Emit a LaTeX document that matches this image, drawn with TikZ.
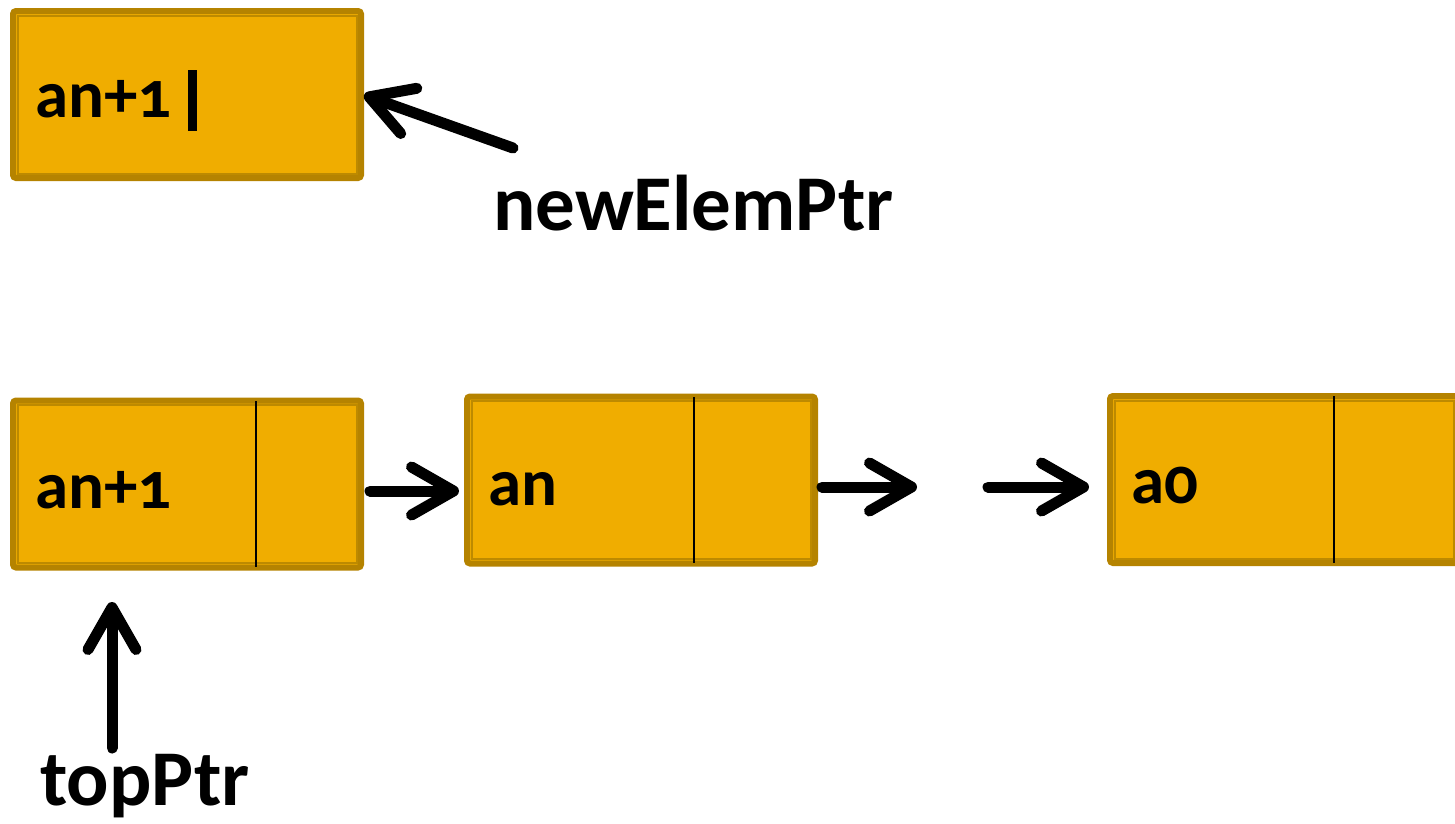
\documentclass[tikz,border=0pt]{standalone}
\usepackage{fontspec}
\setmainfont{Carlito}[Numbers=OldStyle]
\usetikzlibrary{arrows.meta}
\definecolor{fillc}{HTML}{F0AD00}
\definecolor{borderc}{HTML}{B58300}
\definecolor{innerc}{HTML}{BD8A00}
\tikzset{
  cell/.style={draw=borderc, line width=6pt, fill=fillc, rounded corners=3pt,
    minimum width=348pt, minimum height=167pt, inner sep=0pt},
  inner/.style={draw=innerc, line width=2pt},
  divider/.style={draw=black, line width=1.3pt},
  boxtxt/.style={anchor=base west, inner sep=0pt, font=\fontsize{67}{70}\selectfont\bfseries},
  lbl/.style={anchor=base west, inner sep=0pt, font=\fontsize{79}{82}\selectfont\bfseries},
  ptr/.style={line width=11pt, line cap=round,
    -{Straight Barb[length=42pt, width=48pt, round]}}
}
\begin{document}
\begin{tikzpicture}[x=1pt,y=-1pt]
\useasboundingbox (0,0) rectangle (1455,823);
% top box
\node[cell] (nb) at (187,94.5) {};
\draw[inner] ([shift={(7.5,7.5)}]nb.north west) rectangle ([shift={(-7.5,-7.5)}]nb.south east);
\node[boxtxt] (nbt) at (35,117) {an+1};
\draw[line width=9pt] (192.5,70) -- (192.5,131);
% lower boxes
\node[cell] (n1) at (187,484) {};
\draw[inner] ([shift={(7.5,7.5)}]n1.north west) rectangle ([shift={(-7.5,-7.5)}]n1.south east);
\draw[divider] (256,401) -- (256,567);
\node[boxtxt] (n1t) at (35,508) {an+1};

\node[cell] (n2) at (641,480) {};
\draw[inner] ([shift={(7.5,7.5)}]n2.north west) rectangle ([shift={(-7.5,-7.5)}]n2.south east);
\draw[divider] (694,397) -- (694,563);
\node[boxtxt] (n2t) at (488,505) {an};

\node[cell] (n3) at (1284,479.5) {};
\draw[inner] ([shift={(7.5,7.5)}]n3.north west) rectangle ([shift={(-7.5,-7.5)}]n3.south east);
\draw[divider] (1334,396) -- (1334,563);
\node[boxtxt] (n3t) at (1131,503) {a0};

% labels
\node[lbl] (lnew) at (493,230) {newElemPtr};
\node[lbl] (ltop) at (40,805) {topPtr};

% pointers
\coordinate (newtail) at (513,148);
\coordinate (toptail) at (112,748);
\coordinate (a2end) at (917,487);
\coordinate (a3start) at (988,487);
\draw[ptr] (newtail) -- (nb.east |- 0,95);
\draw[ptr] (toptail) -- (toptail |- 0,602);
\draw[ptr, shorten >=5pt] ([xshift=6pt]n1.east |- 0,491) -- (n2.west |- 0,491);
\draw[ptr] ([xshift=4pt]n2.east |- 0,487) -- (a2end);
\draw[ptr, shorten >=18pt] (a3start) -- (n3.west |- 0,487);
\end{tikzpicture}
\end{document}
